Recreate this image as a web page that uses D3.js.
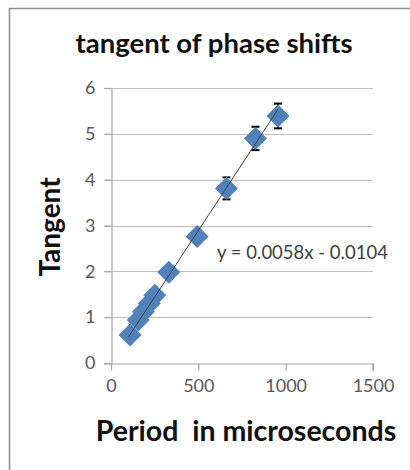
<!DOCTYPE html>
<html>
<head>
<meta charset="utf-8">
<script src="https://cdn.jsdelivr.net/npm/d3@7"></script>
<style>
  body { margin: 0; background: #fff; }
  text { font-family: Lato, "Open Sans", sans-serif; }
</style>
</head>
<body>
<svg id="chart" width="410" height="470"></svg>
<script>
// readings
const period  = [109, 156, 185, 219, 251, 331, 493, 661, 827, 956];
const tangent = [0.61, 0.94, 1.12, 1.30, 1.48, 1.98, 2.76, 3.81, 4.90, 5.39];
const errBar  = [0.04, 0.05, 0.05, 0.06, 0.07, 0.08, 0.10, 0.24, 0.255, 0.27];
const xTicks = [0, 500, 1000, 1500];
const yTicks = [0, 1, 2, 3, 4, 5, 6];
const slope = 0.0058, intercept = -0.0104;

const svg = d3.select('#chart');

// outer chart frame
svg.append('path')
    .attr('d', 'M9.5,470 V8.5 H410')
    .attr('fill', 'none')
    .attr('stroke', '#8c8c8c')
    .attr('stroke-width', 1.5);

let x = d3.scaleLinear().domain([0, 1500]).range([111, 373]);
let y = d3.scaleLinear().domain([0, 6]).range([363, 88]);

// gridlines
svg.selectAll('.grid')
    .data(yTicks.slice(1))
    .enter()
    .append('line')
    .attr('x1', 104).attr('x2', x(1500))
    .attr('y1', d => Math.round(y(d)) + 0.5)
    .attr('y2', d => Math.round(y(d)) + 0.5)
    .attr('stroke', '#bfbfbf')
    .attr('stroke-width', 1.2);

let yAxis = svg.append('g')
    .attr('transform', 'translate(' + (x(0) + 0.5) + ',0)')
    .call(d3.axisLeft(y).tickValues(yTicks).tickFormat(d3.format('d')).tickSize(7).tickPadding(9));
let xAxis = svg.append('g')
    .attr('transform', 'translate(0,' + (y(0) + 0.5) + ')')
    .call(d3.axisBottom(x).tickValues(xTicks).tickFormat(d3.format('d')).tickSize(7).tickPadding(9));

[yAxis, xAxis].forEach(g => {
    g.select('.domain').attr('stroke', '#a6a6a6').attr('stroke-width', 1.2);
    g.selectAll('.tick line').attr('stroke', '#a6a6a6').attr('stroke-width', 1.2);
    g.selectAll('.tick text')
        .attr('fill', '#595959')
        .style('font-size', '18px')
        .style('font-family', 'Lato, sans-serif');
});
// 0 at the corner has its own little tick left of the axis
xAxis.select('.domain').attr('d', 'M' + (x(0) - 7) + ',0.5H' + x(1500) + 'V7');

const pts = period.map((p, i) => ({p: p, t: tangent[i], e: errBar[i]}));

// error bars sit behind the markers
let eb = svg.selectAll('.err')
    .data(pts)
    .enter()
    .append('g')
    .attr('class', 'err')
    .attr('stroke', '#000')
    .attr('stroke-width', 1.3);
eb.append('line')
    .attr('x1', d => x(d.p)).attr('x2', d => x(d.p))
    .attr('y1', d => y(d.t + d.e)).attr('y2', d => y(d.t - d.e));
eb.selectAll('.cap')
    .data(d => [[d.p, d.t + d.e], [d.p, d.t - d.e]])
    .enter()
    .append('line')
    .attr('x1', d => x(d[0]) - 4).attr('x2', d => x(d[0]) + 4)
    .attr('y1', d => y(d[1])).attr('y2', d => y(d[1]))
    .attr('stroke-width', 2);

// diamonds
svg.selectAll('.pt')
    .data(pts)
    .enter()
    .append('path')
    .attr('class', 'pt')
    .attr('d', 'M0,-11.5L11.5,0L0,11.5L-11.5,0Z')
    .attr('transform', d => 'translate(' + x(d.p) + ',' + y(d.t) + ')')
    .attr('fill', '#4f81bd');

// trendline on top
let xr = d3.extent(period);
svg.append('line')
    .attr('x1', x(xr[0] - 10)).attr('y1', y(slope * (xr[0] - 10) + intercept))
    .attr('x2', x(xr[1])).attr('y2', y(slope * xr[1] + intercept) )
    .attr('stroke', '#404040')
    .attr('stroke-width', 1);

// equation label
svg.append('text')
    .attr('x', 217).attr('y', 259)
    .attr('fill', '#404040')
    .style('font-size', '18.5px')
    .text('y = 0.0058x - 0.0104');

svg.append('text')
    .attr('x', 214).attr('y', 53)
    .attr('text-anchor', 'middle')
    .style('font-size', '27.5px')
    .style('font-weight', 'bold')
    .attr('fill', '#111')
    .text('tangent of phase shifts');

svg.append('text')
    .attr('x', 246).attr('y', 441)
    .attr('text-anchor', 'middle')
    .style('font-size', '28.5px')
    .style('font-weight', 'bold')
    .style('white-space', 'pre')
    .attr('fill', '#111')
    .text('Period  in microseconds');

svg.append('text')
    .attr('transform', 'translate(60,227) rotate(-90)')
    .attr('text-anchor', 'middle')
    .style('font-size', '28px')
    .style('font-weight', 'bold')
    .attr('fill', '#111')
    .text('Tangent');
</script>
</body>
</html>
